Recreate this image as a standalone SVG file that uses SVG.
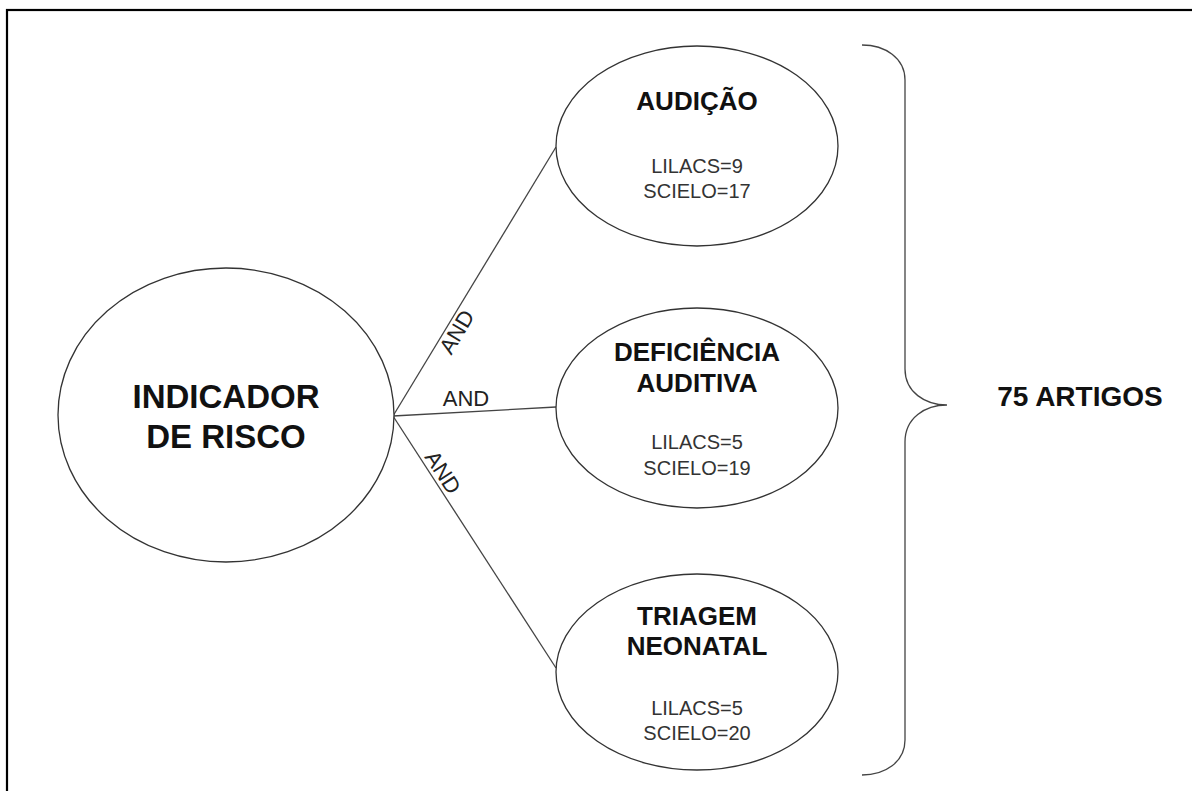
<svg xmlns="http://www.w3.org/2000/svg" width="1192" height="791" viewBox="0 0 1192 791">
<style>
.node{fill:#fff;stroke:#333;stroke-width:1.3}
.conn{stroke:#444;stroke-width:1.3;fill:none}
.title{font-family:"Liberation Sans",Arial,sans-serif;font-weight:bold;fill:#111;text-anchor:middle}
.small{font-family:"Liberation Sans",Arial,sans-serif;fill:#333;font-size:20px;text-anchor:middle}
.lbl{font-family:"Liberation Sans",Arial,sans-serif;fill:#222;font-size:22px;text-anchor:middle}
</style>
<rect x="0" y="0" width="1192" height="791" fill="#fff"/>
<rect x="7" y="10" width="1200" height="800" fill="none" stroke="#000" stroke-width="2.2"/>
<g id="connectors">
<line class="conn" x1="393" y1="416" x2="556" y2="147"/>
<line class="conn" x1="393" y1="416" x2="556" y2="407"/>
<line class="conn" x1="393" y1="416" x2="556" y2="668"/>
<text class="lbl" transform="translate(447,326) rotate(-58.8)" x="0" y="19">AND</text>
<text class="lbl" x="466" y="406">AND</text>
<text class="lbl" transform="translate(434,478) rotate(57.1)" x="0" y="-3">AND</text>
</g>
<g id="indicador">
<ellipse class="node" cx="226" cy="415" rx="168" ry="147"/>
<text class="title" font-size="33" x="226" y="408">INDICADOR</text>
<text class="title" font-size="33" x="226" y="448">DE RISCO</text>
</g>
<g id="audicao">
<ellipse class="node" cx="697" cy="146" rx="141" ry="100"/>
<text class="title" font-size="26" x="697" y="110">AUDIÇÃO</text>
<text class="small" x="697" y="173">LILACS=9</text>
<text class="small" x="697" y="198">SCIELO=17</text>
</g>
<g id="deficiencia">
<ellipse class="node" cx="697" cy="408" rx="141" ry="100"/>
<text class="title" font-size="26" x="697" y="361">DEFICIÊNCIA</text>
<text class="title" font-size="26" x="697" y="392">AUDITIVA</text>
<text class="small" x="697" y="449">LILACS=5</text>
<text class="small" x="697" y="475">SCIELO=19</text>
</g>
<g id="triagem">
<ellipse class="node" cx="697" cy="672" rx="141" ry="98"/>
<text class="title" font-size="26" x="697" y="625">TRIAGEM</text>
<text class="title" font-size="26" x="697" y="655">NEONATAL</text>
<text class="small" x="697" y="715">LILACS=5</text>
<text class="small" x="697" y="740">SCIELO=20</text>
</g>
<g id="brace">
<path class="conn" d="M862,45 C885,45 905,58 905,80 L905,369 C905,392 925,405 947,405 C925,405 905,418 905,442 L905,740 C905,762 885,775 862,775"/>
</g>
<g id="total">
<text class="title" font-size="28" x="1080" y="406">75 ARTIGOS</text>
</g>
</svg>
